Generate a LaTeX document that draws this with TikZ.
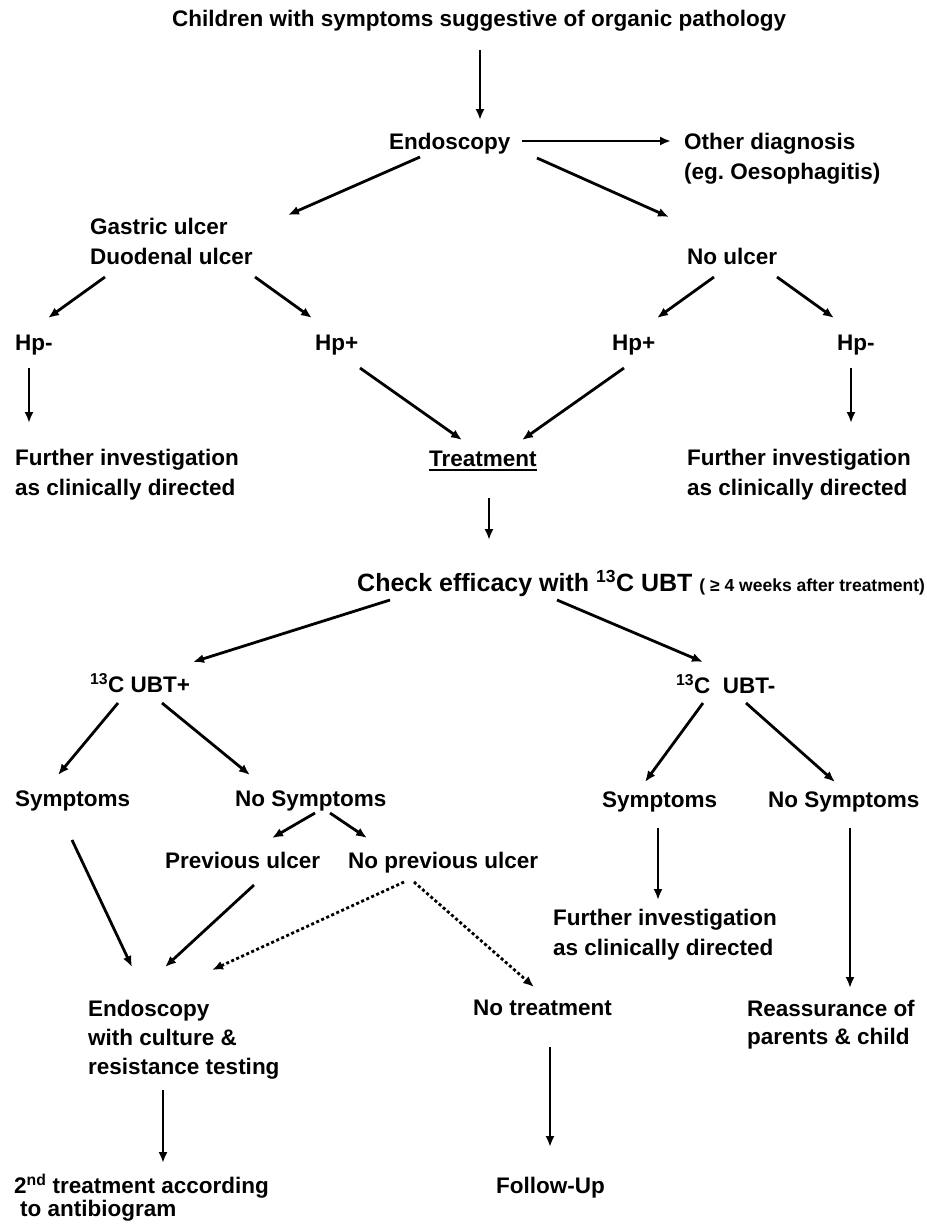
\documentclass[tikz,border=0pt]{standalone}
\usepackage{fontspec}
\setmainfont{Liberation Sans}
\usepackage{tikz}
\usetikzlibrary{arrows.meta}
\tikzstyle{stage}=[anchor=base west,inner sep=0pt,align=left,font=\bfseries\fontsize{22.5bp}{30bp}\selectfont]
\tikzstyle{flow}=[line width=2.8bp,-{Latex[length=11bp,width=9bp]}]
\tikzstyle{maybe}=[flow,dash pattern=on 3bp off 2.5bp]
\newcommand{\thickul}[1]{\setbox0\hbox{#1}\rlap{\rule[-5bp]{\wd0}{2.4bp}}\box0}
\newcommand{\bignote}{\fontsize{25bp}{30bp}\selectfont}
\newcommand{\smallnote}{\fontsize{17.5bp}{20bp}\selectfont}

\begin{document}
\begin{tikzpicture}[x=1bp,y=-1bp]
\useasboundingbox (0,0) rectangle (927,1224);
% first endoscopy
\node[stage] (title) at (172,26) {Children with symptoms suggestive of organic pathology};
\node[stage] (endo) at (389,149) {Endoscopy};
\node[stage] (other) at (684,179) {Other diagnosis\\(eg.\ Oesophagitis)};
\node[stage] (ulcer) at (90,264) {Gastric ulcer\\Duodenal ulcer};
\node[stage] (noulcer) at (687,264) {No ulcer};
%% Hp status
\node[stage] (hpnegA) at (15,350) {Hp-};
\node[stage] (hpposA) at (315,350) {Hp+};
\node[stage] (hpposB) at (612,350) {Hp+};
\node[stage] (hpnegB) at (837,350) {Hp-};
\node[stage] (furtherA) at (15,495) {Further investigation\\as clinically directed};
\node[stage] (treat) at (429,466) {\thickul{Treatment}};
\node[stage] (furtherB) at (687,495) {Further investigation\\as clinically directed};

% breath test
\node[stage] (check) at (357,591) {\bignote Check efficacy with \textsuperscript{13}C UBT {\smallnote( ≥ 4 weeks after treatment)}};
\node[stage] (ubtpos) at (90,692) {\textsuperscript{13}C UBT+};
\node[stage] (ubtneg) at (676,693) {\textsuperscript{13}C\ \ UBT-};
%% symptoms
\node[stage] (sympA) at (15,806) {Symptoms};
\node[stage] (nosympA) at (235,806) {No Symptoms};
\node[stage] (sympB) at (602,807) {Symptoms};
\node[stage] (nosympB) at (768,807) {No Symptoms};
\node[stage] (prev) at (165,868) {Previous ulcer};
\node[stage] (noprev) at (348,868) {No previous ulcer};
\node[stage] (furtherC) at (553,955) {Further investigation\\as clinically directed};
%% outcome
\node[stage] (endoB) at (88,1074) {Endoscopy\\[-1bp]with culture \&\\[-1bp]resistance testing};
\node[stage] (notreat) at (473,1015) {No treatment};
\node[stage] (reassure) at (747,1044) {Reassurance of\\[-2bp]parents \& child};
\node[stage] (second) at (14,1216) {2\textsuperscript{nd} treatment according\\[-7bp]\hspace{6bp}to antibiogram};
\node[stage] (follow) at (496,1193) {Follow-Up};

% Connections
\draw[flow] ([shift={(308,24)}]title.base west) -- ([shift={(91,-29)}]endo.base west);
\draw[flow] ([shift={(133,-8)}]endo.base west) -- ([shift={(-13,-38)}]other.base west);
\draw[flow] ([shift={(31,8)}]endo.base west) -- ([shift={(198,-49)}]ulcer.base west);
\draw[flow] ([shift={(148,9)}]endo.base west) -- ([shift={(-18,-47)}]noulcer.base west);
\draw[flow] ([shift={(15,13)}]ulcer.base west) -- ([shift={(33,-32)}]hpnegA.base west);
\draw[flow] ([shift={(165,13)}]ulcer.base west) -- ([shift={(-3,-32)}]hpposA.base west);
\draw[flow] ([shift={(27,13)}]noulcer.base west) -- ([shift={(45,-32)}]hpposB.base west);
\draw[flow] ([shift={(90,13)}]noulcer.base west) -- ([shift={(-3,-32)}]hpnegB.base west);
\draw[flow] ([shift={(14,18)}]hpnegA.base west) -- ([shift={(14,-72)}]furtherA.base west);
\draw[flow] ([shift={(45,18)}]hpposA.base west) -- ([shift={(33,-26)}]treat.base west);
\draw[flow] ([shift={(12,18)}]hpposB.base west) -- ([shift={(93,-26)}]treat.base west);
\draw[flow] ([shift={(14,18)}]hpnegB.base west) -- ([shift={(164,-72)}]furtherB.base west);
\draw[flow] ([shift={(60,32)}]treat.base west) -- ([shift={(132,-51)}]check.base west);
\draw[flow] ([shift={(33,9)}]check.base west) -- ([shift={(103,-30)}]ubtpos.base west);
\draw[flow] ([shift={(200,9)}]check.base west) -- ([shift={(27,-31)}]ubtneg.base west);
\draw[flow] ([shift={(28,11)}]ubtpos.base west) -- ([shift={(43,-31)}]sympA.base west);
\draw[flow] ([shift={(72,11)}]ubtpos.base west) -- ([shift={(15,-31)}]nosympA.base west);
\draw[flow] ([shift={(27,10)}]ubtneg.base west) -- ([shift={(43,-25)}]sympB.base west);
\draw[flow] ([shift={(70,10)}]ubtneg.base west) -- ([shift={(67,-25)}]nosympB.base west);
\draw[flow] ([shift={(80,7)}]nosympA.base west) -- ([shift={(107,-30)}]prev.base west);
\draw[flow] ([shift={(95,7)}]nosympA.base west) -- ([shift={(19,-30)}]noprev.base west);
\draw[flow] ([shift={(57,34)}]sympA.base west) -- ([shift={(44,-107)}]endoB.base west);
\draw[flow] ([shift={(89,17)}]prev.base west) -- ([shift={(77,-107)}]endoB.base west);
\draw[maybe] ([shift={(56,14)}]noprev.base west) -- ([shift={(124,-104)}]endoB.base west);
\draw[maybe] ([shift={(66,14)}]noprev.base west) -- ([shift={(61,-28)}]notreat.base west);
\draw[flow] ([shift={(56,21)}]sympB.base west) -- ([shift={(105,-55)}]furtherC.base west);
\draw[flow] ([shift={(82,21)}]nosympB.base west) -- ([shift={(103,-56)}]reassure.base west);
\draw[flow] ([shift={(75,16)}]endoB.base west) -- ([shift={(149,-53)}]second.base west);
\draw[flow] ([shift={(77,32)}]notreat.base west) -- ([shift={(54,-46)}]follow.base west);
\end{tikzpicture}
\end{document}
